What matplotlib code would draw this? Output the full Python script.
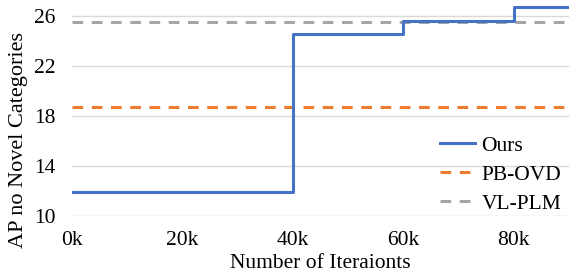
import matplotlib.pyplot as plt

iters = [0, 40, 60, 80, 90]          # k iterations (step starts)
ours = [11.9, 24.6, 25.6, 26.7, 26.7]
pb_ovd = 18.7
vl_plm = 25.5
xticks = [0, 20, 40, 60, 80]
yticks = [10, 14, 18, 22, 26]

plt.rcParams['font.family'] = ['Liberation Serif', 'DejaVu Serif']
plt.rcParams['font.size'] = 15.5

fig = plt.figure(figsize=(5.69, 2.73), dpi=100)
ax = fig.add_axes([0.1265, 0.209, 0.8735, 0.791])

ax.plot(iters, ours, drawstyle='steps-post', color='#4472C4', lw=2.2, label='Ours', zorder=3)
ax.axhline(pb_ovd, color='#ED7D31', lw=2.2, dashes=(3.5, 2.8), label='PB-OVD', zorder=2)
ax.axhline(vl_plm, color='#A5A5A5', lw=2.2, dashes=(3.5, 2.8), label='VL-PLM', zorder=2)

ax.set_xlim(0, 90)
ax.set_ylim(10, 27.3)
ax.set_xticks(xticks)
ax.set_xticklabels(['{}k'.format(x) for x in xticks])
ax.set_yticks(yticks)
ax.grid(axis='y', color='#D9D9D9', lw=1)
ax.set_axisbelow(True)
ax.tick_params(length=0, pad=12)
ax.tick_params(axis='x', pad=11)
for s in ax.spines.values():
    s.set_visible(False)

ax.set_xlabel('Number of Iteraionts', labelpad=3)
ax.set_ylabel('AP no Novel Categories', fontsize=16)
ax.yaxis.set_label_coords(-0.088, 0.35)

ax.legend(loc='lower right', bbox_to_anchor=(1.01, -0.05), frameon=False,
          handlelength=1.6, handletextpad=0.3, labelspacing=0.42, borderaxespad=0.2)

fig.savefig('out.png', dpi=100)
